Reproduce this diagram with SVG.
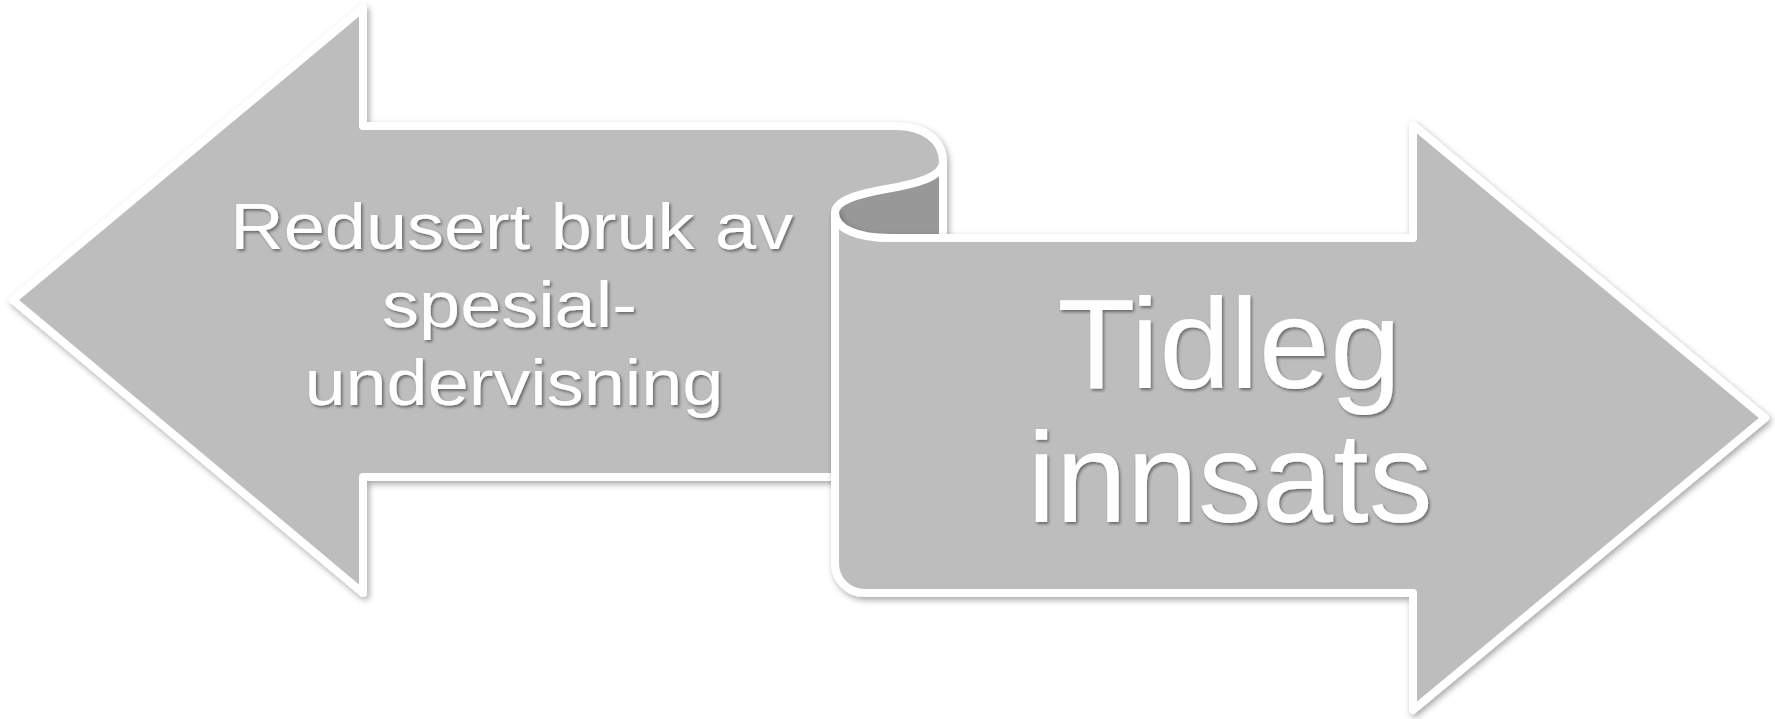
<svg xmlns="http://www.w3.org/2000/svg" width="1775" height="719" viewBox="0 0 1775 719">
  <defs>
    <filter id="shadow" x="-5%" y="-5%" width="110%" height="115%">
      <feDropShadow dx="2" dy="3" stdDeviation="3" flood-color="#000" flood-opacity="0.35"/>
    </filter>
    <filter id="tshadow" x="-5%" y="-10%" width="110%" height="130%">
      <feDropShadow dx="1.5" dy="2" stdDeviation="1.5" flood-color="#000" flood-opacity="0.45"/>
    </filter>
  </defs>
  <style>
    .shape { fill: #bdbdbd; stroke: #ffffff; stroke-width: 8; stroke-linejoin: round; }
    .dark { fill: #989898; stroke: #ffffff; stroke-width: 8; stroke-linejoin: round; }
    .label { fill: #ffffff; font-family: "Liberation Sans", Arial, sans-serif; text-anchor: middle; filter: url(#tshadow); }
  </style>
  <rect width="1775" height="719" fill="#ffffff"/>
  <g id="left-arrow">
    <path class="shape" filter="url(#shadow)" d="M13,300 L363,8 L363,126 L895,126 C924,126 943,140 943,162 L943,477 L363,477 L363,593 Z"/>
  </g>
  <g id="curl">
    <path class="dark" d="M943,162 C943,177 916,184 886,189 C852,195 835,202 835,213 L835,260 L943,260 Z"/>
  </g>
  <g id="right-arrow">
    <path class="shape" filter="url(#shadow)" d="M835,213 C835,229 858,238 890,238 L1413,238 L1413,125 L1765,418 L1413,710 L1413,593 L865,593 C848,593 835,580 835,563 Z"/>
  </g>
  <g id="connectors"/>
  <g id="left-label">
    <text class="label" font-size="64" transform="translate(522,0) scale(1.155,1)">
      <tspan x="0" y="249">Redusert bruk av</tspan>
      <tspan x="-2" y="327">spesial-</tspan>
      <tspan x="-7" y="405">undervisning</tspan>
    </text>
  </g>
  <g id="right-label">
    <text class="label" font-size="128">
      <tspan x="1247" y="388">Tidleg</tspan>
      <tspan x="1230" y="522">innsats</tspan>
    </text>
  </g>
</svg>
